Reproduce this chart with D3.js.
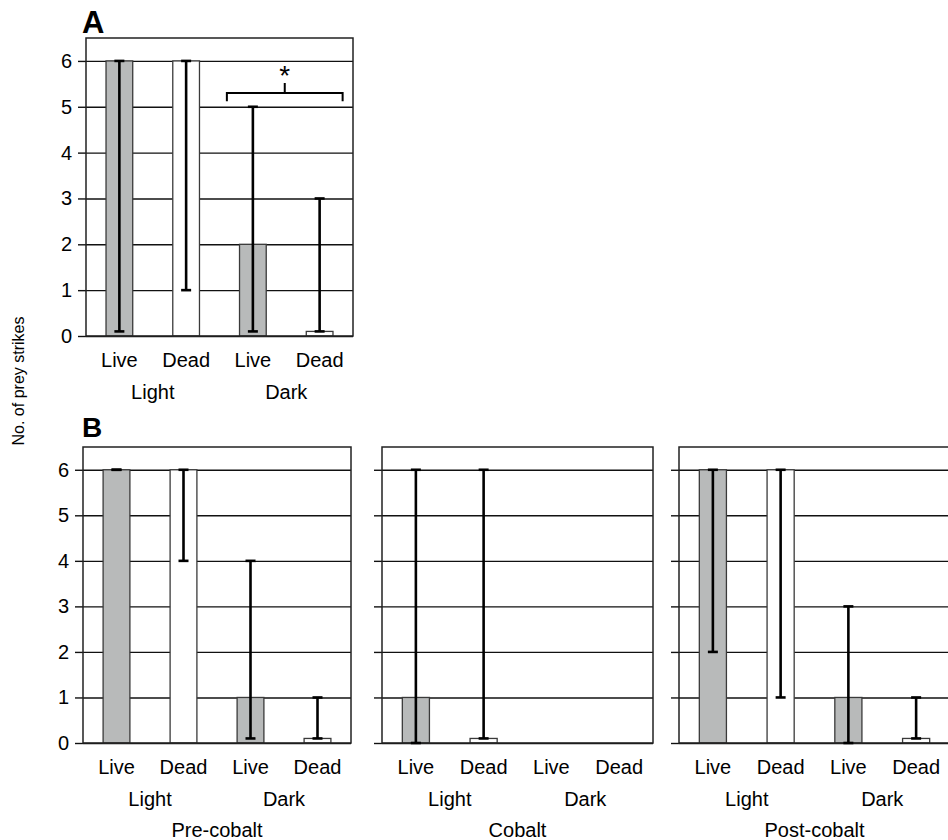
<!DOCTYPE html>
<html>
<head>
<meta charset="utf-8">
<script src="https://cdn.jsdelivr.net/npm/d3@7"></script>
<style>
  body { margin: 0; background: #fff; }
  svg { display: block; }
  text { font-family: Arial, "Liberation Sans", sans-serif; fill: #000; }
</style>
</head>
<body>
<svg id="chart"></svg>
<script>
// categories
var conditions = ['Live', 'Dead', 'Live', 'Dead'];
var groups = ['Light', 'Dark'];
var yTicks = [0, 1, 2, 3, 4, 5, 6];

// panel A
var aMeans = [6, 6, 2, 0.1];
var aLow   = [0.1, 1, 0.1, 0.1];
var aHigh  = [6, 6, 5, 3];

// panel B
var preMeans = [6, 6, 1, 0.1];
var preLow   = [6, 4, 0.1, 0.1];
var preHigh  = [6, 6, 4, 1];

var cobMeans = [1, 0.1, 0, 0];
var cobLow   = [0, 0.1, null, null];
var cobHigh  = [6, 6, null, null];

var postMeans = [6, 6, 1, 0.1];
var postLow   = [2, 1, 0, 0.1];
var postHigh  = [6, 6, 3, 1];

var svg = d3.select('#chart')
  .attr('width', 948)
  .attr('height', 840);

function drawPanel(left, top, bottom, width, means, low, high, tickLabels, title) {
  var x = d3.scaleBand()
    .domain(d3.range(conditions.length))
    .range([left, left + width])
    .paddingInner(0.6)
    .paddingOuter(0.3);
  var y = d3.scaleLinear().domain([0, 6.5]).range([bottom, top]);
  var g = svg.append('g');

  // gridlines behind the bars
  g.append('g')
    .attr('transform', 'translate(' + left + ',0)')
    .call(d3.axisLeft(y).tickValues(yTicks).tickSize(-width).tickFormat(''))
    .call(function(s){
      s.select('.domain').remove();
      s.selectAll('line').attr('stroke', '#111').attr('stroke-width', 1.4);
    });

  // outward ticks + labels
  g.append('g')
    .attr('transform', 'translate(' + left + ',0)')
    .call(d3.axisLeft(y).tickValues(yTicks).tickSize(8).tickPadding(6)
      .tickFormat(tickLabels ? d3.format('d') : ''))
    .call(function(s){
      s.select('.domain').remove();
      s.selectAll('line').attr('stroke', '#111').attr('stroke-width', 1.4);
      s.selectAll('text').style('font-size', '20px').attr('fill', '#000');
    });

  // bars
  g.selectAll('.bar')
    .data(means.map(function(m, i){ return {m: m, i: i}; }).filter(function(d){ return d.m > 0; }))
    .enter().append('rect')
      .attr('class', 'bar')
      .attr('x', function(d){ return x(d.i); })
      .attr('width', x.bandwidth())
      .attr('y', function(d){ return y(d.m); })
      .attr('height', function(d){ return y(0) - y(d.m); })
      .attr('fill', function(d){ return conditions[d.i] == 'Live' ? '#b8baba' : '#fff'; })
      .attr('stroke', '#3a3a3a')
      .attr('stroke-width', 1.3);

  // frame
  g.append('rect')
    .attr('x', left)
    .attr('y', top)
    .attr('width', width)
    .attr('height', bottom - top)
    .attr('fill', 'none')
    .attr('stroke', '#222')
    .attr('stroke-width', 1.5);

  // error bars
  var errs = low.map(function(l, i){ return {l: l, h: high[i], i: i}; })
    .filter(function(d){ return d.l != null; });
  var cx = function(d){ return x(d.i) + x.bandwidth() / 2; };
  var eb = g.selectAll('.err').data(errs).enter().append('g').attr('class', 'err');
  eb.append('line')
    .attr('x1', cx).attr('x2', cx)
    .attr('y1', function(d){ return y(d.l); })
    .attr('y2', function(d){ return y(d.h); });
  eb.append('line')
    .attr('x1', function(d){ return cx(d) - 5; }).attr('x2', function(d){ return cx(d) + 5; })
    .attr('y1', function(d){ return y(d.h); }).attr('y2', function(d){ return y(d.h); });
  eb.append('line')
    .attr('x1', function(d){ return cx(d) - 5; }).attr('x2', function(d){ return cx(d) + 5; })
    .attr('y1', function(d){ return y(d.l); }).attr('y2', function(d){ return y(d.l); });
  eb.selectAll('line').attr('stroke', '#000').attr('stroke-width', 2.6);

  // category labels
  g.selectAll('.cond')
    .data(conditions)
    .enter().append('text')
      .attr('x', function(d, i){ return x(i) + x.bandwidth() / 2; })
      .attr('y', bottom + 31)
      .attr('text-anchor', 'middle')
      .style('font-size', '20px')
      .text(function(d){ return d; });
  g.selectAll('.grp')
    .data(groups)
    .enter().append('text')
      .attr('x', function(d, i){ return (x(i * 2) + x(i * 2 + 1) + x.bandwidth()) / 2; })
      .attr('y', bottom + 63)
      .attr('text-anchor', 'middle')
      .style('font-size', '20px')
      .text(function(d){ return d; });
  if (title) {
    g.append('text')
      .attr('x', left + width / 2)
      .attr('y', bottom + 94)
      .attr('text-anchor', 'middle')
      .style('font-size', '20px')
      .text(title);
  }
  return {x: x, y: y, g: g};
}

var pa = drawPanel(86, 38, 336, 267, aMeans, aLow, aHigh, true, null);
drawPanel(83, 447, 743, 268, preMeans, preLow, preHigh, true, 'Pre-cobalt');
drawPanel(382, 447, 743, 271, cobMeans, cobLow, cobHigh, false, 'Cobalt');
drawPanel(679, 447, 743, 271, postMeans, postLow, postHigh, false, 'Post-cobalt');

// significance bracket in panel A between dark live and dark dead
var bx1 = pa.x(2) + pa.x.bandwidth() / 2 - 26;
var bx2 = pa.x(3) + pa.x.bandwidth() / 2 + 23;
var by = pa.y(5.3);
pa.g.append('path')
  .attr('d', 'M' + bx1 + ',' + pa.y(5.12) + 'V' + by + 'H' + bx2 + 'V' + pa.y(5.12)
    + 'M' + (bx1 + bx2) / 2 + ',' + by + 'V' + pa.y(5.52))
  .attr('fill', 'none')
  .attr('stroke', '#000')
  .attr('stroke-width', 2);
pa.g.append('text')
  .attr('x', (bx1 + bx2) / 2)
  .attr('y', pa.y(5.52) + 2)
  .attr('text-anchor', 'middle')
  .style('font-size', '28px')
  .text('*');

// panel letters and shared y label
svg.append('text').attr('x', 82).attr('y', 33)
  .style('font-size', '31px').style('font-weight', 'bold').text('A');
svg.append('text').attr('x', 82).attr('y', 437)
  .style('font-size', '28px').style('font-weight', 'bold').text('B');
svg.append('text')
  .attr('transform', 'translate(24,381) rotate(-90)')
  .attr('text-anchor', 'middle')
  .style('font-size', '16px')
  .text('No. of prey strikes');
</script>
</body>
</html>
